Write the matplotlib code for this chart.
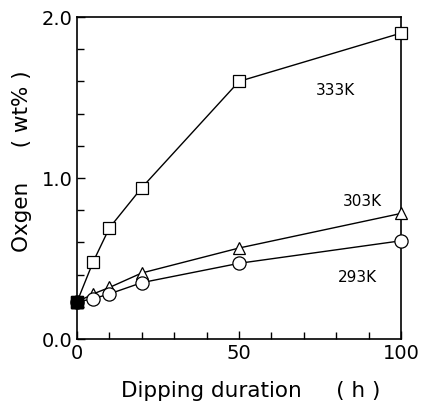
import matplotlib
matplotlib.use("Agg")
import matplotlib.pyplot as plt
from matplotlib.ticker import MultipleLocator

plt.rcParams['font.family'] = ['DejaVu Sans']

hours = [0, 5, 10, 20, 50, 100]
o_333 = [0.23, 0.48, 0.69, 0.94, 1.60, 1.90]
o_303 = [0.23, 0.28, 0.32, 0.41, 0.565, 0.78]
o_293 = [0.23, 0.25, 0.28, 0.35, 0.47, 0.61]
labels = ["333K", "303K", "293K"]
label_pos = [(79.6, 1.55), (88.2, 0.86), (86.6, 0.385)]

fig = plt.figure(figsize=(4.24, 4.06), dpi=100)
ax = fig.add_axes([0.1816, 0.1626, 0.946 - 0.1816, 0.9557 - 0.1626])

for ys, m, ms in [(o_333, 's', 9), (o_303, '^', 9), (o_293, 'o', 9.5)]:
    ax.plot(hours, ys, color='black', lw=1.0, marker=m, ms=ms,
            mfc='white', mec='black', mew=0.9, clip_on=False, zorder=3)
    ax.plot(hours[:1], ys[:1], linestyle='none', marker=m, ms=ms - 1,
            mfc='black', mec='black', clip_on=False, zorder=4)

for t, (x, y) in zip(labels, label_pos):
    ax.text(x, y, t, fontsize=11, ha='center', va='center',
            family=['Liberation Sans Narrow', 'DejaVu Sans'])

ax.set_xlim(0, 100)
ax.set_ylim(0, 2.0)
ax.xaxis.set_major_locator(MultipleLocator(50))
ax.xaxis.set_minor_locator(MultipleLocator(10))
ax.yaxis.set_major_locator(MultipleLocator(1.0))
ax.yaxis.set_minor_locator(MultipleLocator(0.2))
ax.set_yticks([0, 1.0, 2.0])
ax.set_yticklabels(["0.0", "1.0", "2.0"])
ax.tick_params(which='both', direction='in', labelsize=14, width=1)
ax.tick_params(which='major', length=6, pad=3)
ax.tick_params(which='minor', length=5)
for s in ax.spines.values():
    s.set_linewidth(1.2)

ax.set_xlabel("Dipping duration     ( h )", fontsize=15.5, va='center')
ax.xaxis.set_label_coords(0.537, -0.158)
ax.set_ylabel("Oxgen     ( wt% )", fontsize=15.5, va='center')
ax.yaxis.set_label_coords(-0.17, 0.556)

fig.savefig("out.png", dpi=100)
